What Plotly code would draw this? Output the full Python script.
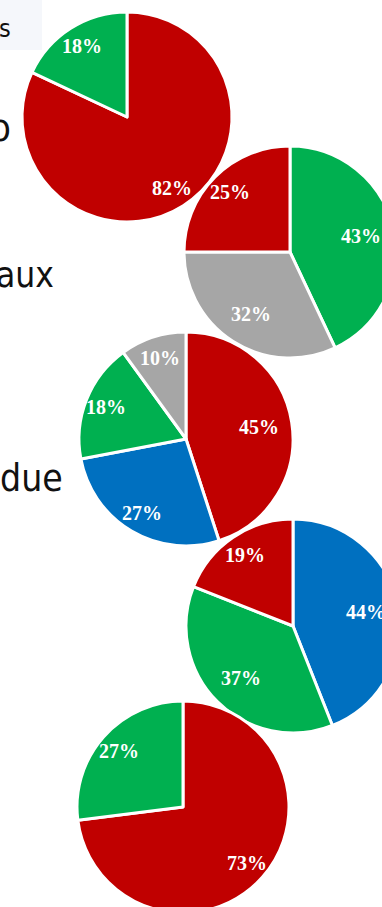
import math
import plotly.graph_objects as go

# Survey shares per question (percent), listed clockwise from 12 o'clock
q1_labels = ["Non", "Oui"]
q1_values = [82, 18]

q2_labels = ["Oui", "Sans avis", "Non"]
q2_values = [43, 32, 25]

q3_labels = ["Non", "Partiellement", "Oui", "Sans avis"]
q3_values = [45, 27, 18, 10]

q4_labels = ["Partiellement", "Oui", "Non"]
q4_values = [44, 37, 19]

q5_labels = ["Non", "Oui"]
q5_values = [73, 27]

# Slide text fragments on the left edge
side_words = ["s", "o", "aux", "due"]

palette = {
    "Non": "#C00000",
    "Oui": "#00B050",
    "Sans avis": "#A6A6A6",
    "Partiellement": "#0070C0",
}

W, H = 410, 920  # canvas is larger than the visible window; overflow is clipped


def label_radius(share):
    # near-half slices keep their label closer to the centre
    return 0.69 if 0.3 < share < 0.5 else 0.8


def domain(cx, cy, r):
    return dict(x=[(cx - r) / W, (cx + r) / W],
                y=[1 - (cy + r) / H, 1 - (cy - r) / H])


def px_x(x):
    return x / W


def px_y(y):
    return 1 - y / H


pies = [
    (q1_labels, q1_values, (127, 117, 105)),
    (q2_labels, q2_values, (290, 252, 106)),
    (q3_labels, q3_values, (186, 439, 107)),
    (q4_labels, q4_values, (293, 626, 107)),
    (q5_labels, q5_values, (183, 807, 106)),
]

fig = go.Figure()
for labels, values, (cx, cy, r) in pies:
    fig.add_trace(go.Pie(
        labels=labels,
        values=values,
        sort=False,
        direction="clockwise",
        rotation=0,
        domain=domain(cx, cy, r),
        marker=dict(colors=[palette[l] for l in labels],
                    line=dict(color="white", width=3)),
        textinfo="none",
        hoverinfo="label+value",
        showlegend=False,
    ))
    # value labels along each slice's bisector
    total = sum(values)
    cum = 0
    for v in values:
        theta = math.radians((cum + v / 2) / total * 360)
        cum += v
        f = label_radius(v / total)
        lx = cx + f * r * math.sin(theta)
        ly = cy - f * r * math.cos(theta)
        fig.add_annotation(
            text=f"<b>{v}%</b>", x=px_x(lx), y=px_y(ly),
            xref="paper", yref="paper", showarrow=False,
            xanchor="center", yanchor="middle",
            font=dict(family="Liberation Serif", size=20, color="white"),
        )

# (right edge px, vertical middle px, font size)
word_pos = [(13, 29, 25), (13, 128, 38), (56, 275, 35), (65, 478, 37)]
for word, (xr, ym, fs) in zip(side_words, word_pos):
    fig.add_annotation(
        text=word, x=px_x(xr), y=px_y(ym), xref="paper", yref="paper",
        xanchor="right", yanchor="middle", showarrow=False,
        font=dict(family="DejaVu Sans Condensed, DejaVu Sans", size=fs, color="#111111"),
    )

fig.add_shape(type="rect", xref="paper", yref="paper",
              x0=0, x1=px_x(42), y0=px_y(50), y1=1,
              fillcolor="#f5f7fb", line=dict(width=0), layer="below")

fig.update_layout(
    width=W, height=H,
    margin=dict(l=0, r=0, t=0, b=0),
    paper_bgcolor="white",
    plot_bgcolor="white",
)

fig.write_html(
    "out.html",
    config={"displayModeBar": False},
    post_script="document.body.style.margin='0';document.body.style.overflow='hidden';",
)
